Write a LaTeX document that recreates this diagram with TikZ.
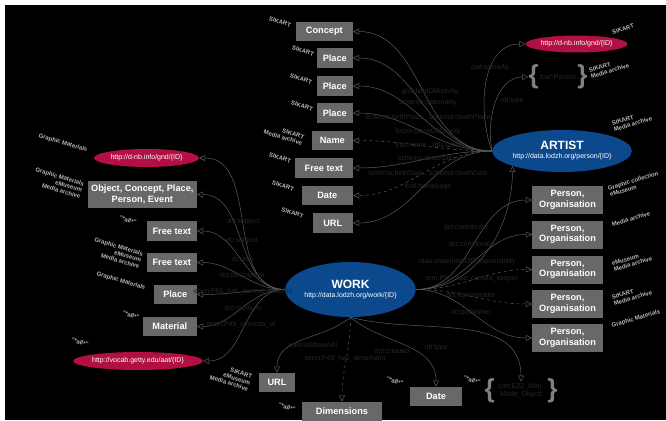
\documentclass[tikz,border=0pt]{standalone}
\usepackage{fontspec}
\setmainfont{Liberation Sans}
\usetikzlibrary{shapes.geometric,arrows.meta,positioning}

\definecolor{boxgray}{RGB}{104,104,104}
\definecolor{hubblue}{RGB}{12,72,140}
\definecolor{urired}{RGB}{178,16,66}
\definecolor{taggray}{RGB}{184,184,184}
\definecolor{propgray}{RGB}{40,40,40}
\definecolor{linkgray}{RGB}{92,92,92}
\definecolor{bracegray}{RGB}{128,128,128}

\newcommand{\boxfont}{\fontsize{9.2}{10.5}\selectfont\bfseries}
\newcommand{\hubfont}{\fontsize{12}{13}\selectfont\bfseries}
\newcommand{\urifont}{\fontsize{7}{8}\selectfont}
\newcommand{\tagfont}{\fontsize{6}{6.6}\selectfont\bfseries}
\newcommand{\propfont}{\fontsize{7}{8}\selectfont}
\newcommand{\bracefont}{\fontsize{26}{26}\selectfont\bfseries}

\tikzset{
  box/.style={fill=boxgray, text=white, font=\boxfont, minimum height=19.5pt, inner sep=0pt},
  twobox/.style={box, minimum height=28pt, align=center},
  hub/.style={ellipse, fill=hubblue, text=white, font=\urifont, inner sep=0pt, align=center},
  uri/.style={ellipse, fill=urired, text=white, font=\urifont, inner sep=0pt},
  tag/.style={text=taggray, font=\tagfont, inner sep=0pt, align=right, rotate=-17},
  rtag/.style={text=taggray, font=\tagfont, inner sep=0pt, align=left, rotate=17},
  prop/.style={text=propgray, font=\propfont, inner sep=0pt},
  brace/.style={text=bracegray, font=\bracefont, inner sep=0pt},
  link/.style={draw=linkgray, line width=0.5pt, -{Triangle[open, length=6pt, width=6pt]}}
}

\begin{document}
\begin{tikzpicture}[x=1pt,y=-1pt]
\useasboundingbox (0,0) rectangle (666,420);
\fill[white] (0,0) rectangle (666,420);
\fill[black] (5,5) rectangle (666,420);

\node[hub, minimum width=121pt, minimum height=42pt] (artist) at (562,151) {{\hubfont ARTIST}\\[1pt]http://data.lodzh.org/person/\{ID\}};
\node[hub, minimum width=123pt, minimum height=55pt] (work) at (350.5,289.5) {{\hubfont WORK}\\[1pt]http://data.lodzh.org/work/\{ID\}};

\node[box, minimum width=57pt, anchor=east] (concept) at (353,31.5) {Concept};
\node[box, minimum width=36pt, anchor=east] (place1) at (353,58) {Place};
\node[box, minimum width=36pt, anchor=east] (place2) at (353,86) {Place};
\node[box, minimum width=36pt, anchor=east] (place3) at (353,113) {Place};
\node[box, minimum width=41pt, anchor=east] (name) at (353,140.5) {Name};
\node[box, minimum width=58pt, anchor=east] (freetext) at (353,168) {Free text};
\node[box, minimum width=51pt, anchor=east] (date) at (353,195.5) {Date};
\node[box, minimum width=40pt, anchor=east] (url) at (353,223) {URL};

\node[tag] (tconcept) at (280,22) {SIKART};
\node[tag] (tplace1) at (303,51) {SIKART};
\node[tag] (tplace2) at (301,79) {SIKART};
\node[tag] (tplace3) at (302,106) {SIKART};
\node[tag] (tname) at (284,134.5) {SIKART\\Media archive};
\node[tag] (tfreetext) at (280,158) {SIKART};
\node[tag] (tdate) at (283,186) {SIKART};
\node[tag] (turl) at (292.5,213) {SIKART};

\node[uri, minimum width=95pt, minimum height=17pt] (gndartist) at (576.5,44) {http://d-nb.info/gnd/\{ID\}};
\node[rtag] (tgndartist) at (623,29) {SIKART};
\node[prop] (foafperson) at (558,77) {foaf:Person};
\node[brace, left=1pt of foafperson] (bracel1) {\{};
\node[brace, right=1pt of foafperson] (bracer1) {\}};
\node[rtag] (tfoaf) at (609,68) {SIKART\\Media archive};
\node[rtag] (tartist) at (632,121) {SIKART\\Media archive};

\node[twobox, minimum width=71pt] (person1) at (567.5,200) {Person,\\Organisation};
\node[twobox, minimum width=71pt] (person2) at (567.5,234.5) {Person,\\Organisation};
\node[twobox, minimum width=71pt] (person3) at (567.5,269.5) {Person,\\Organisation};
\node[twobox, minimum width=71pt] (person4) at (567.5,304) {Person,\\Organisation};
\node[twobox, minimum width=71pt] (person5) at (567.5,338) {Person,\\Organisation};
\node[rtag] (tperson1) at (634,184) {Graphic collection\\eMuseum};
\node[rtag] (tperson2) at (631,219) {Media archive};
\node[rtag] (tperson3) at (632,261) {eMuseum\\Media archive};
\node[rtag] (tperson4) at (632,295) {SIKART\\Media archive};
\node[rtag] (tperson5) at (636,319) {Graphic Materials};

\node[uri, minimum width=105pt, minimum height=18pt] (gndwork) at (146.5,158) {http://d-nb.info/gnd/\{ID\}};
\node[tag] (tgndwork) at (63,143) {Graphic Materials};
\node[twobox, minimum width=109pt, minimum height=27pt, anchor=east] (object) at (197,194.5) {Object, Concept, Place,\\Person, Event};
\node[tag] (tobject) at (58,183) {Graphic Materials\\eMuseum\\Media archive};
\node[box, minimum width=50pt, anchor=east] (freetext1) at (197,231) {Free text};
\node[tag] (tfreetext1) at (128,220) {"*all*"};
\node[box, minimum width=50pt, anchor=east] (freetext2) at (197,262.5) {Free text};
\node[tag] (tfreetext2) at (117,253) {Graphic Materials\\eMuseum\\Media archive};
\node[box, minimum width=43pt, anchor=east] (placew) at (197,294.5) {Place};
\node[tag] (tplacew) at (121,281) {Graphic Materials};
\node[box, minimum width=54pt, anchor=east] (material) at (197,326.5) {Material};
\node[tag] (tmaterial) at (131,315) {"*all*"};
\node[uri, minimum width=118pt, minimum height=18pt] (aat) at (138,361) {http://vocab.getty.edu/aat/\{ID\}};
\node[tag] (taat) at (80,342) {"*all*"};

\node[box, minimum width=36pt] (urlw) at (277,382.5) {URL};
\node[tag] (turlw) at (231,377) {SIKART\\eMuseum\\Media archive};
\node[box, minimum width=80pt] (dims) at (342,411.5) {Dimensions};
\node[tag] (tdims) at (287,407) {"*all*"};
\node[box, minimum width=52pt] (datew) at (436,396.5) {Date};
\node[tag] (tdatew) at (395,381) {"*all*"};
\node[prop, align=center, inner sep=2pt] (e22) at (521,391) {crm:E22\_Man-\\Made\_Object};
\node[brace, left=1pt of e22] (bracel2) {\{};
\node[brace, right=1pt of e22] (bracer2) {\}};
\node[tag] (te22) at (472,380) {"*all*"};

\draw[link] (artist.west) to[out=180,in=0] (concept.east);
\draw[link] (artist.west) to[out=180,in=0] (place1.east);
\draw[link] (artist.west) to[out=180,in=0] (place2.east);
\draw[link] (artist.west) to[out=180,in=0] (place3.east);
\draw[link, dashed] (artist.west) to[out=180,in=0] (name.east);
\draw[link] (artist.west) to[out=180,in=0] (freetext.east);
\draw[link, dashed] (artist.west) to[out=180,in=0] (date.east);
\draw[link] (artist.west) to[out=180,in=0] (url.east);
\draw[link] (artist.west) to[out=110,in=180] (gndartist.west);
\draw[link] (artist.west) to[out=100,in=180] (bracel1.west);

\draw[link] (work.west) to[out=180,in=0] (gndwork.east);
\draw[link] (work.west) to[out=180,in=0] (object.east);
\draw[link] (work.west) to[out=180,in=0] (freetext1.east);
\draw[link] (work.west) to[out=180,in=0] (freetext2.east);
\draw[link] (work.west) to[out=180,in=0] (placew.east);
\draw[link] (work.west) to[out=180,in=0] (material.east);
\draw[link] (work.west) to[out=180,in=0] (aat.east);

\draw[link] (work.east) to[out=0,in=-90] (artist.south west);
\draw[link] (work.east) to[out=0,in=180] (person1.west);
\draw[link] (work.east) to[out=0,in=180] (person2.west);
\draw[link, dashed] (work.east) to[out=0,in=180] (person3.west);
\draw[link, dashed] (work.east) to[out=0,in=180] (person4.west);
\draw[link] (work.east) to[out=0,in=180] (person5.west);

\draw[link] (work.south) to[out=-140,in=90] (urlw.north);
\draw[link, dashed] (work.south) to[out=-90,in=90] (dims.north);
\draw[link] (work.south) to[out=-40,in=90] (datew.north);
\draw[link] (work.south) to[out=-15,in=90] (e22.north);

\node[prop] (pactivity) at (430,92) {gnd:fieldOfActivity};
\node[prop] (pnationality) at (428,103) {schema:nationality};
\node[prop] (pbirthplace) at (428,117) {schema:birthPlace , schema:deathPlace};
\node[prop] (pplace) at (428,132) {lodzh:placeOfActivity};
\node[prop] (pname) at (428,145) {foaf:name , rdfs:label};
\node[prop] (pdescription) at (428,159) {schema:description};
\node[prop] (pbirthdate) at (428,173) {schema:birthDate , schema:deathDate};
\node[prop] (phomepage) at (428,187) {foaf:homepage};
\node[prop] (psameas) at (490,67) {owl:sameAs};
\node[prop] (ptype) at (512,101) {rdf:type};

\node[prop] (psubject) at (243,222) {dct:subject};
\node[prop] (pdcsubject) at (242,241) {dc:subject};
\node[prop] (ptitle) at (243,259) {dct:title};
\node[prop] (pworkdesc) at (242,276) {dct:description};
\node[prop] (plocation) at (243,292) {ecrm:P55\_has\_current\_location};
\node[prop] (pmedium) at (243,308) {dct:medium};
\node[prop] (pconsists) at (241,325) {ecrm:P45\_consists\_of};

\node[prop] (pcontrib1) at (466,227) {dct:contributor};
\node[prop] (pcontrib2) at (471,244) {dct:contributor};
\node[prop] (presponsible) at (467,262) {rdaa:statementOfResponsibility};
\node[prop] (pkeeper) at (472,279) {crm:P50\_has\_current\_keeper};
\node[prop] (prights) at (471,296) {dct:rightsHolder};
\node[prop] (ppublisher) at (471,313) {dct:publisher};

\node[prop] (pshownat) at (313,345) {edm:isShownAt};
\node[prop] (pdimension) at (345,359) {ecrm:P43\_has\_dimension};
\node[prop] (pcreated) at (392,351) {dct:created};
\node[prop] (pworktype) at (436,348) {rdf:type};
\end{tikzpicture}
\end{document}
